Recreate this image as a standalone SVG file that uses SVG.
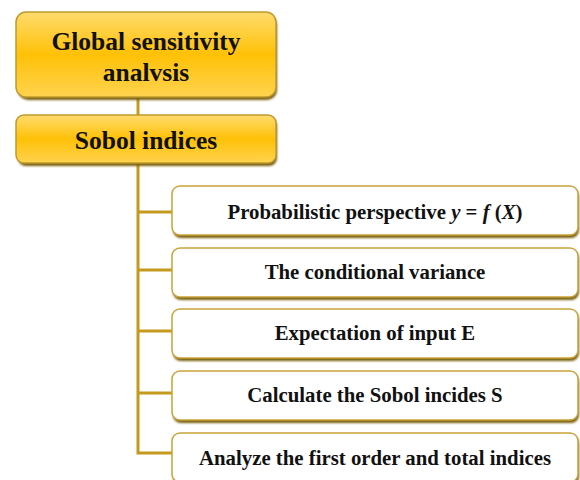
<svg xmlns="http://www.w3.org/2000/svg" width="580" height="480" viewBox="0 0 580 480">
<defs>
<linearGradient id="gold" x1="0" y1="0" x2="0" y2="1">
<stop offset="0" stop-color="#FFDB6E"/>
<stop offset="0.5" stop-color="#FFC107"/>
<stop offset="1" stop-color="#FFD34F"/>
</linearGradient>
<filter id="blur" x="-5%" y="-20%" width="110%" height="140%"><feGaussianBlur stdDeviation="1"/></filter>
</defs>
<style>
.shadow{fill:#7A5E08;filter:url(#blur)}
.gbox{fill:url(#gold);stroke:#BF9A2C;stroke-width:1.5}
.wbox{fill:#FFFFFF;stroke:#C9A43A;stroke-width:1.5}
.conn{stroke:#C39A1C;stroke-width:3;fill:none}
.t1{font-family:"Liberation Serif",serif;font-weight:bold;font-size:25.5px;fill:#111;text-anchor:middle}
.t2{font-family:"Liberation Serif",serif;font-weight:bold;font-size:20.8px;fill:#111;text-anchor:middle}
</style>
<rect width="580" height="480" fill="#FFFFFF"/>
<g id="connectors">
<line class="conn" x1="138" y1="97" x2="138" y2="116"/>
<path class="conn" d="M138 164 V453 H172"/>
<line class="conn" x1="138" y1="212" x2="172" y2="212"/>
<line class="conn" x1="138" y1="270" x2="172" y2="270"/>
<line class="conn" x1="138" y1="331" x2="172" y2="331"/>
<line class="conn" x1="138" y1="393" x2="172" y2="393"/>
</g>
<g id="node-global">
<rect class="shadow" x="18" y="15" width="259" height="85" rx="10"/>
<rect class="gbox" x="16" y="12" width="260" height="85" rx="10"/>
<text class="t1" x="146" y="50">Global sensitivity</text>
<text class="t1" x="146" y="81">analvsis</text>
</g>
<g id="node-sobol">
<rect class="shadow" x="18" y="118" width="259" height="48" rx="8"/>
<rect class="gbox" x="16" y="115" width="260" height="48" rx="8"/>
<text class="t1" x="146" y="149">Sobol indices</text>
</g>
<g id="node-1">
<rect class="shadow" x="173" y="189" width="406" height="49" rx="8"/>
<rect class="wbox" x="172" y="186" width="406" height="49" rx="8"/>
<text class="t2" x="375" y="219">Probabilistic perspective <tspan font-style="italic">y</tspan> = <tspan font-style="italic">f</tspan> (<tspan font-style="italic">X</tspan>)</text>
</g>
<g id="node-2">
<rect class="shadow" x="173" y="251" width="406" height="49" rx="8"/>
<rect class="wbox" x="172" y="248" width="406" height="49" rx="8"/>
<text class="t2" x="375" y="279">The conditional variance</text>
</g>
<g id="node-3">
<rect class="shadow" x="173" y="312" width="406" height="49" rx="8"/>
<rect class="wbox" x="172" y="309" width="406" height="49" rx="8"/>
<text class="t2" x="375" y="340">Expectation of input E</text>
</g>
<g id="node-4">
<rect class="shadow" x="173" y="374" width="406" height="49" rx="8"/>
<rect class="wbox" x="172" y="371" width="406" height="49" rx="8"/>
<text class="t2" x="375" y="402">Calculate the Sobol incides S</text>
</g>
<g id="node-5">
<rect class="shadow" x="173" y="436" width="406" height="49" rx="8"/>
<rect class="wbox" x="172" y="433" width="406" height="49" rx="8"/>
<text class="t2" x="375" y="465">Analyze the first order and total indices</text>
</g>
</svg>
